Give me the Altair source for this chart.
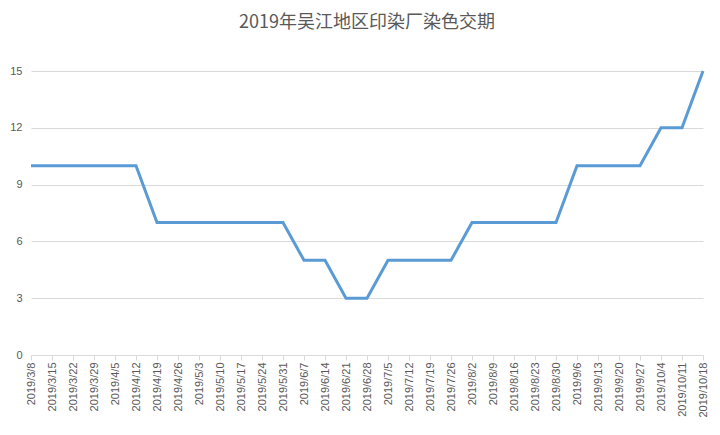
import altair as alt
import pandas as pd

dates = ["2019/3/8", "2019/3/15", "2019/3/22", "2019/3/29", "2019/4/5", "2019/4/12",
         "2019/4/19", "2019/4/26", "2019/5/3", "2019/5/10", "2019/5/17", "2019/5/24",
         "2019/5/31", "2019/6/7", "2019/6/14", "2019/6/21", "2019/6/28", "2019/7/5",
         "2019/7/12", "2019/7/19", "2019/7/26", "2019/8/2", "2019/8/9", "2019/8/16",
         "2019/8/23", "2019/8/30", "2019/9/6", "2019/9/13", "2019/9/20", "2019/9/27",
         "2019/10/4", "2019/10/11", "2019/10/18"]
values = [10, 10, 10, 10, 10, 10,
          7, 7, 7, 7, 7, 7, 7,
          5, 5, 3, 3,
          5, 5, 5, 5,
          7, 7, 7, 7, 7,
          10, 10, 10, 10,
          12, 12, 15]
y_ticks = [0, 3, 6, 9, 12, 15]

df = pd.DataFrame({"date": dates, "value": values})

label_font = "Liberation Sans"

chart = alt.Chart(df).mark_line(color="#5b9bd5", strokeWidth=3).encode(
    x=alt.X("date:N", sort=dates, title=None,
            scale=alt.Scale(type="point", padding=0),
            axis=alt.Axis(labelAngle=-90, labelFontSize=11, labelColor="#595959",
                          labelFont=label_font, domainColor="#d9d9d9", tickColor="#d9d9d9",
                          tickSize=5, labelPadding=2, grid=False, labelOverlap=False)),
    y=alt.Y("value:Q", title=None,
            scale=alt.Scale(domain=[0, 15], nice=False),
            axis=alt.Axis(values=y_ticks, labelFontSize=11, labelColor="#595959",
                          labelFont=label_font, ticks=False, domain=False,
                          gridColor="#d9d9d9", gridWidth=1, labelPadding=9)),
).properties(
    width=672, height=284,
    title=alt.TitleParams("2019年吴江地区印染厂染色交期", font="Noto Sans CJK SC",
                          fontSize=18, fontWeight="normal", color="#595959",
                          anchor="middle", offset=33),
    autosize=alt.AutoSizeParams(type="none"),
    padding={"left": 23, "top": 63, "right": 9, "bottom": 72},
).configure_view(stroke=None)

chart.save("out.html", embed_options={"renderer": "svg", "actions": False})
